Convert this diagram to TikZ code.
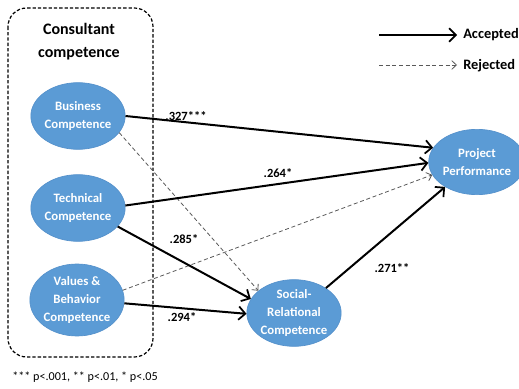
\documentclass[tikz,border=0pt]{standalone}
\usepackage{fontspec}
\setmainfont{Carlito}
\usetikzlibrary{arrows.meta,shapes.geometric}
\definecolor{cblue}{HTML}{5B9BD5}
\definecolor{cedge}{HTML}{5591CB}
\tikzset{
  construct/.style={ellipse, fill=cblue, draw=cedge, line width=0.5pt, inner sep=0pt,
    text=white, align=center, font=\bfseries\fontsize{9.6}{13.5}\selectfont},
  accepted/.style={line width=1.5pt, -{Straight Barb[length=5pt,width=10pt,line width=1.3pt]}},
  rejected/.style={line width=0.6pt, black!65, dash pattern=on 3pt off 2pt,
    -{Straight Barb[length=3.5pt,width=6.5pt,line width=0.6pt]}},
  coef/.style={font=\bfseries\fontsize{9.4}{11}\selectfont, inner sep=0.75pt}
}
\begin{document}
\begin{tikzpicture}[x=0.75pt,y=0.75pt,yscale=-1]
        \useasboundingbox (0,0) rectangle (519,389);
        
        %Rounded Rect: consultant competence group
        \draw [dash pattern={on 2.5pt off 1.5pt}, line width=0.9pt, rounded corners=14pt] (8,8) rectangle (153,357);
        \node (title) [align=center, font=\bfseries\fontsize{12}{17.2}\selectfont] at (79,42) {Consultant\\competence};
        
        %Shape: Ellipses
        \node (bus) [construct, minimum width=63pt, minimum height=50pt] at (78,116) {Business\\Competence};
        \node (tech) [construct, minimum width=63pt, minimum height=50pt] at (78,208) {Technical\\Competence};
        \node (val) [construct, minimum width=63pt, minimum height=54pt] at (77,300) {Values \&\\Behavior\\Competence};
        \node (soc) [construct, minimum width=64pt, minimum height=50pt] at (294,313) {Social-\\Relational\\Competence};
        \node (proj) [construct, minimum width=61.5pt, minimum height=49pt] at (477,162) {Project\\Performance};
        
        %Connectors
        \draw [rejected] (bus.338) -- (soc.148);
        \draw [rejected] (val.12) -- (proj.196);
        \draw [accepted] (bus.0) -- (proj.162);
        \draw [accepted] (tech.3) -- (proj.181);
        \draw [accepted] (tech.335) -- (soc.162);
        \draw [accepted] (val.356) -- (soc.181);
        \draw [accepted] (soc.38) -- (proj.218);
        
        % Text Node: coefficients
        \node (c1) [coef] at (186,116) {.327***};
        \node (c2) [coef] at (278,173) {.264*};
        \node (c3) [coef] at (184,239) {.285*};
        \node (c4) [coef] at (182,317) {.294*};
        \node (c5) [coef] at (392,268) {.271**};
        
        %Legend
        \coordinate (acc0) at (379,35);
        \coordinate (acc1) at (457,35);
        \coordinate (rej0) at (379,65);
        \coordinate (rej1) at (457,65);
        \draw [accepted] (acc0) -- (acc1);
        \draw [rejected] (rej0) -- (rej1);
        \node (acc) [anchor=west, inner sep=0.75pt, font=\bfseries\fontsize{10.8}{12}\selectfont] at (462,35) {Accepted};
        \node (rej) [anchor=west, inner sep=0.75pt, font=\bfseries\fontsize{10.8}{12}\selectfont] at (462,66) {Rejected};
        
        % Text Node: note
        \node (note) [anchor=west, inner sep=0.75pt, font=\fontsize{9.1}{11}\selectfont] at (11,377) {*** p<.001, ** p<.01, * p<.05};
        
\end{tikzpicture}
\end{document}
